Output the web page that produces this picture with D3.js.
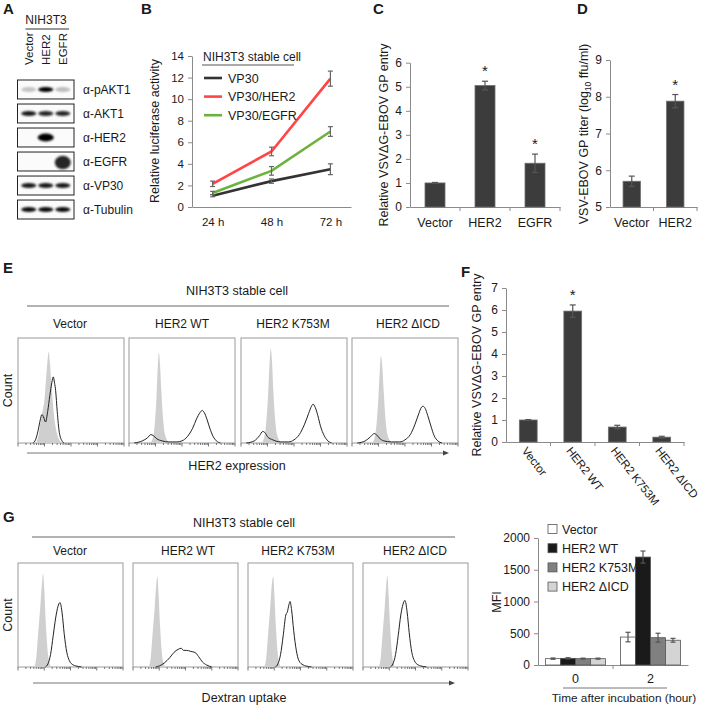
<!DOCTYPE html>
<html><head><meta charset="utf-8">
<script src="https://cdn.jsdelivr.net/npm/d3@7"></script>
<style>
html,body{margin:0;padding:0;background:#fff;}
svg{display:block;}
</style></head><body>
<svg id="fig" width="702" height="710"></svg>
<script>
// ================= DATA =================
// Panel A (western blot, relative band intensity per lane)
const blotLanes = ["Vector","HER2","EGFR"];
const blotRows = ["α-pAKT1","α-AKT1","α-HER2","α-EGFR","α-VP30","α-Tubulin"];
const blotIntensity = [
  [0.22,1.0,0.25],
  [0.9,0.85,0.85],
  [0,1.0,0],
  [0,0,0.85],
  [0.9,0.9,0.9],
  [0.95,0.95,0.95]
];
const blotSpread = [1,1,1.5,2.6,1,1];

// Panel B
const timeLabels = ["24 h","48 h","72 h"];
const lucTicks = [0,2,4,6,8,10,12,14];
const lucVP30 = [1.05,2.4,3.5];
const lucVP30Err = [0.1,0.2,0.5];
const lucHER2 = [2.15,5.15,11.9];
const lucHER2Err = [0.25,0.4,0.7];
const lucEGFR = [1.3,3.35,7.0];
const lucEGFRErr = [0.15,0.4,0.45];
const lucNames = ["VP30","VP30/HER2","VP30/EGFR"];

// Panel C
const entryCats = ["Vector","HER2","EGFR"];
const entryVals = [1.0,5.05,1.82];
const entryErr = [0.02,0.18,0.38];
const entrySig = [false,true,true];
const entryTicks = [0,1,2,3,4,5,6];

// Panel D
const titerCats = ["Vector","HER2"];
const titerVals = [5.7,7.88];
const titerErr = [0.14,0.18];
const titerSig = [false,true];
const titerTicks = [5,6,7,8,9];

// Panels E / G flow histograms: [log decade, relative count]
const flowCats = ["Vector","HER2 WT","HER2 K753M","HER2 ΔICD"];
const eIsoVector = [[0.68,0],[0.78,0.08],[0.86,0.22],[0.94,0.32],[1.0,0.42],[1.06,0.62],[1.12,0.8],[1.16,0.87],[1.2,0.78],[1.28,0.5],[1.36,0.26],[1.46,0.1],[1.56,0.03],[1.66,0]];
const eIsoWT = [[0.8,0],[0.9,0.05],[0.98,0.2],[1.04,0.45],[1.09,0.75],[1.13,0.86],[1.17,0.75],[1.22,0.5],[1.28,0.25],[1.36,0.08],[1.46,0.02],[1.56,0]];
const eIsoK753M = [[0.78,0],[0.88,0.06],[0.96,0.22],[1.02,0.45],[1.07,0.72],[1.12,0.9],[1.17,0.78],[1.22,0.5],[1.28,0.25],[1.36,0.08],[1.46,0.02],[1.56,0]];
const eIsoDICD = [[0.76,0],[0.86,0.06],[0.94,0.22],[1.0,0.45],[1.05,0.7],[1.09,0.83],[1.14,0.74],[1.2,0.48],[1.26,0.24],[1.34,0.08],[1.44,0.02],[1.54,0]];
const eHerVector = [[0.56,0],[0.66,0.03],[0.76,0.12],[0.84,0.22],[0.9,0.27],[0.96,0.25],[1.04,0.2],[1.12,0.3],[1.2,0.45],[1.28,0.58],[1.33,0.63],[1.38,0.57],[1.42,0.5],[1.48,0.3],[1.56,0.1],[1.66,0.02],[1.74,0]];
const eHerWT = [[0.2,0],[0.5,0.02],[0.7,0.05],[0.82,0.08],[0.92,0.07],[1.05,0.04],[1.25,0.02],[1.5,0.01],[1.8,0.01],[2.0,0.02],[2.2,0.06],[2.4,0.14],[2.55,0.23],[2.68,0.29],[2.76,0.31],[2.84,0.29],[2.95,0.22],[3.05,0.14],[3.18,0.06],[3.3,0.02],[3.45,0]];
const eHerK753M = [[0.2,0],[0.5,0.02],[0.7,0.07],[0.82,0.11],[0.9,0.1],[1.0,0.06],[1.2,0.03],[1.5,0.01],[1.8,0.01],[2.0,0.03],[2.2,0.08],[2.4,0.18],[2.55,0.28],[2.66,0.35],[2.72,0.37],[2.8,0.34],[2.9,0.26],[3.0,0.16],[3.14,0.07],[3.28,0.02],[3.42,0]];
const eHerDICD = [[0.2,0],[0.5,0.02],[0.7,0.06],[0.84,0.09],[0.92,0.08],[1.02,0.05],[1.2,0.02],[1.5,0.01],[1.8,0.01],[2.0,0.03],[2.2,0.08],[2.38,0.18],[2.52,0.28],[2.62,0.34],[2.68,0.35],[2.76,0.33],[2.86,0.26],[2.98,0.16],[3.1,0.07],[3.24,0.02],[3.4,0]];
const gIsoVector = [[0.62,0],[0.7,0.1],[0.76,0.3],[0.84,0.55],[0.92,0.82],[0.96,0.9],[1.0,0.75],[1.06,0.42],[1.12,0.18],[1.2,0.04],[1.26,0]];
const gIsoWT = [[0.6,0],[0.68,0.1],[0.74,0.3],[0.82,0.55],[0.89,0.8],[0.93,0.87],[0.97,0.72],[1.03,0.4],[1.09,0.16],[1.17,0.03],[1.24,0]];
const gIsoK753M = [[0.62,0],[0.7,0.1],[0.76,0.3],[0.84,0.55],[0.91,0.8],[0.96,0.87],[1.0,0.72],[1.06,0.4],[1.12,0.16],[1.2,0.03],[1.26,0]];
const gIsoDICD = [[0.6,0],[0.68,0.1],[0.74,0.3],[0.82,0.55],[0.89,0.8],[0.93,0.88],[0.97,0.72],[1.03,0.4],[1.09,0.16],[1.17,0.03],[1.24,0]];
const gDexVector = [[1.04,0],[1.14,0.03],[1.24,0.12],[1.34,0.3],[1.44,0.48],[1.52,0.58],[1.6,0.62],[1.68,0.52],[1.76,0.32],[1.86,0.14],[1.96,0.06],[2.1,0.02],[2.3,0.005],[2.42,0]];
const gDexWT = [[0.86,0],[1.0,0.01],[1.2,0.04],[1.4,0.09],[1.56,0.14],[1.72,0.17],[1.84,0.18],[1.92,0.16],[2.04,0.16],[2.2,0.15],[2.36,0.14],[2.5,0.1],[2.64,0.05],[2.8,0.02],[3.0,0]];
const gDexK753M = [[1.04,0],[1.14,0.03],[1.24,0.12],[1.34,0.3],[1.44,0.5],[1.5,0.53],[1.56,0.6],[1.6,0.63],[1.66,0.55],[1.74,0.35],[1.84,0.16],[1.94,0.06],[2.1,0.02],[2.3,0.005],[2.42,0]];
const gDexDICD = [[1.04,0],[1.14,0.03],[1.24,0.12],[1.34,0.3],[1.44,0.5],[1.52,0.6],[1.6,0.64],[1.68,0.53],[1.76,0.33],[1.86,0.14],[1.96,0.06],[2.1,0.02],[2.3,0.005],[2.42,0]];

// Panel F
const mutCats = ["Vector","HER2 WT","HER2 K753M","HER2 ΔICD"];
const mutVals = [1.0,5.95,0.68,0.22];
const mutErr = [0.02,0.28,0.08,0.04];
const mutSig = [false,true,false,false];
const mutTicks = [0,1,2,3,4,5,6,7];

// Panel G bar chart
const mfiTimes = ["0","2"];
const mfiVector = [100,440];
const mfiWT = [105,1700];
const mfiK753M = [100,430];
const mfiDICD = [100,390];
const mfiVectorErr = [10,75];
const mfiWTErr = [10,95];
const mfiK753MErr = [8,70];
const mfiDICDErr = [8,30];
const mfiTicks = [0,500,1000,1500,2000];
const mfiColors = ["#ffffff","#1a1a1a","#808080","#d4d4d4"];

// ================= DRAW =================
const FONT = "'Liberation Sans', Arial, Helvetica, sans-serif";
const svg = d3.select("#fig").attr("font-family", FONT);
svg.append("rect").attr("width",702).attr("height",710).attr("fill","#fff");
const AX = "#8a8a8a", TXT = "#1a1a1a";
const intFmt = d3.format("d");

function label(t,x,y,opt={}){
  const e = svg.append("text").attr("x",x).attr("y",y).attr("fill",TXT)
    .attr("font-size",opt.size||12).attr("text-anchor",opt.anchor||"start").text(t);
  if(opt.bold) e.attr("font-weight","bold");
  if(opt.rot!==undefined) e.attr("transform",`rotate(${opt.rot},${x},${y})`);
  return e;
}
function styleAxis(g,size){
  g.attr("font-family",FONT);
  g.selectAll("path.domain").attr("stroke",AX);
  g.selectAll(".tick line").attr("stroke",AX);
  g.selectAll(".tick text").attr("fill",TXT).attr("font-size",size||11.5);
}
function hline(x1,x2,y,c){ svg.append("line").attr("x1",x1).attr("x2",x2).attr("y1",y).attr("y2",y).attr("stroke",c||"#555").attr("stroke-width",1); }
function errBar(g,x,y1,y2,w,c){
  g.append("line").attr("x1",x).attr("x2",x).attr("y1",y1).attr("y2",y2).attr("stroke",c).attr("stroke-width",1.2);
  [y1,y2].forEach(y=>g.append("line").attr("x1",x-w/2).attr("x2",x+w/2).attr("y1",y).attr("y2",y).attr("stroke",c).attr("stroke-width",1.2));
}

// panel letters
label("A",3,14,{bold:true,size:15});
label("B",141,14,{bold:true,size:15});
label("C",373,14,{bold:true,size:15});
label("D",577,14,{bold:true,size:15});
label("E",3,273,{bold:true,size:15});
label("F",461,277,{bold:true,size:15});
label("G",3,522,{bold:true,size:15});

// ---------- Panel A ----------
const defs = svg.append("defs");
defs.append("filter").attr("id","blur").attr("x","-50%").attr("y","-100%").attr("width","200%").attr("height","300%")
  .append("feGaussianBlur").attr("stdDeviation",1.3);
const laneX = d3.scaleBand(blotLanes,[17.5,74]).paddingOuter(0.16).paddingInner(0);
const rowY = d3.scaleBand(blotRows,[80,219]).paddingInner(0.21).paddingOuter(0);
label("NIH3T3",46,24,{anchor:"middle",size:12});
hline(laneX.range()[0]+8, laneX.range()[1]-5, 29, "#333");
blotLanes.forEach(l=>{
  const cx = laneX(l)+laneX.bandwidth()/2;
  label(l,cx+4,65,{rot:-90,size:11.5});
});
blotRows.forEach((r,ri)=>{
  const g = svg.append("g");
  const y0 = rowY(r), h = rowY.bandwidth();
  g.append("rect").attr("x",laneX.range()[0]).attr("y",y0).attr("width",laneX.range()[1]-laneX.range()[0]).attr("height",h)
    .attr("fill","#fbfbfb").attr("stroke","#222").attr("stroke-width",1);
  blotLanes.forEach((l,li)=>{
    const v = blotIntensity[ri][li];
    if(v<=0) return;
    const cx = laneX(l)+laneX.bandwidth()/2;
    const sp = blotSpread[ri];
    g.append("ellipse").attr("cx",cx).attr("cy",y0+h/2 + (sp>2?1:0)).attr("rx",7.5+ (sp>1.2?0.5:0)).attr("ry",2.6*sp)
      .attr("fill","#000").attr("opacity",v).attr("filter","url(#blur)");
  });
  label(r,83,y0+h/2+4.5,{size:12});
});

// ---------- Panel B ----------
const xB = d3.scalePoint(timeLabels,[192,351]).padding(0.35);
const yB = d3.scaleLinear([0,14],[207,56]);
const gB = svg.append("g");
gB.append("g").attr("transform","translate(192,0)").call(d3.axisLeft(yB).tickValues(lucTicks).tickFormat(intFmt).tickSize(4).tickSizeOuter(0).tickPadding(4)).call(styleAxis);
gB.append("g").attr("transform","translate(0,207)").call(d3.axisBottom(xB).tickSize(0).tickSizeOuter(0).tickPadding(11)).call(styleAxis);
label("Relative luciferase activity",159,131,{anchor:"middle",rot:-90,size:12.5});
const lucColors = ["#333333","#ff4545","#6cb33e"];
const lucData = [[lucVP30,lucVP30Err],[lucHER2,lucHER2Err],[lucEGFR,lucEGFRErr]];
const lineB = d3.line().x((d,i)=>xB(timeLabels[i])).y(d=>yB(d));
lucData.forEach(([vals,errs],k)=>{
  gB.append("path").datum(vals).attr("d",lineB).attr("fill","none").attr("stroke",lucColors[k]).attr("stroke-width",2.6);
});
lucData.forEach(([vals,errs])=>{
  vals.forEach((v,i)=>errBar(gB,xB(timeLabels[i]),yB(v+errs[i]),yB(v-errs[i]),5,"#666"));
});
label("NIH3T3 stable cell",203,61,{size:12});
hline(202,294,65,"#555");
lucNames.forEach((n,k)=>{
  const y = 78 + k*18.6;
  gB.append("line").attr("x1",204).attr("x2",222).attr("y1",y).attr("y2",y).attr("stroke",lucColors[k]).attr("stroke-width",2.6);
  label(n,228,y+4.5,{size:12.5});
});

// bar chart helper
function barChart(opt){
  const x = d3.scaleBand(opt.cats,opt.xr).paddingInner(opt.pad).paddingOuter(opt.pad/2);
  const y = d3.scaleLinear(opt.dom,opt.yr);
  const g = svg.append("g");
  g.append("g").attr("transform",`translate(${opt.xr[0]},0)`).call(d3.axisLeft(y).tickValues(opt.ticks).tickFormat(intFmt).tickSize(4).tickSizeOuter(0).tickPadding(4)).call(a=>styleAxis(a,12));
  const xa = g.append("g").attr("transform",`translate(0,${opt.yr[0]})`).call(d3.axisBottom(x).tickSize(0).tickSizeOuter(0).tickPadding(opt.rotLabels?0:11)).call(a=>styleAxis(a,opt.rotLabels?11.5:12.5));
  const bounds = opt.cats.map(c=>x(c)-x.step()*x.paddingInner()/2).slice(1).concat([opt.xr[1]]);
  bounds.forEach(b=>g.append("line").attr("x1",b).attr("x2",b).attr("y1",opt.yr[0]).attr("y2",opt.yr[0]+4).attr("stroke",AX));
  if(opt.rotLabels){
    xa.selectAll(".tick text").attr("text-anchor","start").attr("dy",0)
      .attr("transform","translate(-7,9) rotate(52)");
  }
  opt.vals.forEach((v,i)=>{
    const c = opt.cats[i];
    g.append("rect").attr("x",x(c)).attr("width",x.bandwidth()).attr("y",y(v)).attr("height",y(opt.dom[0])-y(v))
      .attr("fill","#3c3c3c").attr("stroke","#6e6e6e").attr("stroke-width",0.8);
  });
  opt.vals.forEach((v,i)=>{
    const cx = x(opt.cats[i])+x.bandwidth()/2;
    errBar(g,cx,y(v+opt.err[i]),y(v-opt.err[i]),6,"#555");
    if(opt.sig[i]) g.append("text").attr("x",cx).attr("y",y(v+opt.err[i])-5).attr("text-anchor","middle").attr("font-size",15).attr("fill",TXT).text("*");
  });
  return {x,y,g};
}
// ---------- Panel C ----------
barChart({cats:entryCats,vals:entryVals,err:entryErr,sig:entrySig,ticks:entryTicks,dom:[0,6],xr:[410,560],yr:[207,62.7],pad:0.6});
label("Relative VSVΔG-EBOV GP entry",388,135,{anchor:"middle",rot:-90,size:12.5});
// ---------- Panel D ----------
barChart({cats:titerCats,vals:titerVals,err:titerErr,sig:titerSig,ticks:titerTicks,dom:[5,9],xr:[610,697],yr:[207,60],pad:0.6});
{
  const t = svg.append("text").attr("transform","translate(588,134) rotate(-90)").attr("text-anchor","middle").attr("font-size",12.5).attr("fill",TXT);
  t.append("tspan").text("VSV-EBOV GP titer (log");
  t.append("tspan").attr("font-size",8.5).attr("dy",3).text("10");
  t.append("tspan").attr("dy",-3).text(" ffu/ml)");
}

// ---------- Flow histograms (E, G) ----------
function flowRow(o){
  label("NIH3T3 stable cell",o.titleX,o.titleY,{anchor:"middle",size:12.5});
  hline(o.lineX[0],o.lineX[1],o.lineY,"#666");
  label("Count",o.countX,o.boxY+o.boxH/2,{anchor:"middle",rot:-90,size:12.5});
  o.boxX.forEach((bx,i)=>{
    label(flowCats[i],o.subX[i],o.subY,{anchor:"middle",size:12});
    const x = d3.scaleLinear([0,4],[bx,bx+o.boxW]);
    const xl = d3.scaleLog([1,1e4],[bx,bx+o.boxW]);
    const y = d3.scaleLinear([0,1],[o.boxY+o.boxH,o.boxY]);
    const g = svg.append("g");
    g.append("rect").attr("x",bx).attr("y",o.boxY).attr("width",o.boxW).attr("height",o.boxH).attr("fill","#fff").attr("stroke","#9a9a9a").attr("stroke-width",1);
    const area = d3.area().x(d=>x(d[0])).y0(y(0)).y1(d=>y(d[1])).curve(d3.curveMonotoneX);
    const line = d3.line().x(d=>x(d[0])).y(d=>y(d[1])).curve(d3.curveMonotoneX);
    g.append("path").datum(o.iso[i]).attr("d",area).attr("fill","#cfcfcf");
    g.append("path").datum(o.sig[i]).attr("d",line).attr("fill","none").attr("stroke","#222").attr("stroke-width",1);
    xl.ticks().forEach(t=>{
      const major = Math.abs(Math.log10(t)-Math.round(Math.log10(t)))<1e-9;
      g.append("line").attr("x1",xl(t)).attr("x2",xl(t)).attr("y1",o.boxY+o.boxH).attr("y2",o.boxY+o.boxH+(major?3.5:2)).attr("stroke","#777");
    });
  });
  svg.append("line").attr("x1",o.arrX[0]).attr("x2",o.arrX[1]-5).attr("y1",o.arrY).attr("y2",o.arrY).attr("stroke","#777").attr("stroke-width",1);
  svg.append("path").attr("d",`M${o.arrX[1]},${o.arrY} l-6,-2.5 l0,5 z`).attr("fill","#444");
  label(o.xlab,o.titleX,o.xlabY,{anchor:"middle",size:12.5});
}
flowRow({titleX:237,titleY:295,lineX:[27,449],lineY:306,subX:[70,182,293,408],subY:328,
  boxX:[18,129,241,352],boxW:106,boxY:338,boxH:105,countX:12,arrX:[27,449],arrY:453,xlabY:470,xlab:"HER2 expression",
  iso:[eIsoVector,eIsoWT,eIsoK753M,eIsoDICD],sig:[eHerVector,eHerWT,eHerK753M,eHerDICD]});
flowRow({titleX:244,titleY:527,lineX:[32,455],lineY:537,subX:[70,188,298,415],subY:555,
  boxX:[18,133,248,363],boxW:105,boxY:563,boxH:104,countX:12,arrX:[33,455],arrY:683,xlabY:702,xlab:"Dextran uptake",
  iso:[gIsoVector,gIsoWT,gIsoK753M,gIsoDICD],sig:[gDexVector,gDexWT,gDexK753M,gDexDICD]});

// ---------- Panel F ----------
barChart({cats:mutCats,vals:mutVals,err:mutErr,sig:mutSig,ticks:mutTicks,dom:[0,7],xr:[506,684],yr:[442,288],pad:0.6,rotLabels:true});
label("Relative VSVΔG-EBOV GP entry",481,365,{anchor:"middle",rot:-90,size:12.5});

// ---------- Panel G bar chart ----------
{
  const x0 = d3.scaleBand(mfiTimes,[538,688]).paddingInner(0.2).paddingOuter(0.1);
  const names = ["Vector","HER2 WT","HER2 K753M","HER2 ΔICD"];
  const x1 = d3.scaleBand(names,[0,x0.bandwidth()]);
  const y = d3.scaleLinear([0,2000],[665,538]);
  const g = svg.append("g");
  g.append("g").attr("transform","translate(538,0)").call(d3.axisLeft(y).tickValues(mfiTicks).tickFormat(intFmt).tickSize(4).tickSizeOuter(0).tickPadding(4)).call(a=>styleAxis(a,12));
  g.append("g").attr("transform","translate(0,665)").call(d3.axisBottom(x0).tickSize(0).tickSizeOuter(0).tickPadding(9)).call(a=>styleAxis(a,12.5));
  const vals = [mfiVector,mfiWT,mfiK753M,mfiDICD];
  const errs = [mfiVectorErr,mfiWTErr,mfiK753MErr,mfiDICDErr];
  mfiTimes.forEach((t,ti)=>{
    names.forEach((n,k)=>{
      const v = vals[k][ti];
      g.append("rect").attr("x",x0(t)+x1(n)).attr("width",x1.bandwidth()).attr("y",y(v)).attr("height",y(0)-y(v))
        .attr("fill",mfiColors[k]).attr("stroke","#555").attr("stroke-width",0.8);
    });
    names.forEach((n,k)=>{
      const v = vals[k][ti], e = errs[k][ti];
      errBar(g,x0(t)+x1(n)+x1.bandwidth()/2,y(v+e),y(v-e),5,"#555");
    });
  });
  g.append("line").attr("x1",x0.range()[0]+x0.step()*1.0).attr("x2",x0.range()[0]+x0.step()*1.0).attr("y1",665).attr("y2",669).attr("stroke",AX);
  hline(563,667,688,"#777");
  label("Time after incubation (hour)",624,702,{anchor:"middle",size:11.8});
  label("MFI",501,602,{anchor:"middle",rot:-90,size:12.5});
  names.forEach((n,k)=>{
    const yy = 529 + k*19.2;
    g.append("rect").attr("x",548).attr("y",yy-4.5).attr("width",9).attr("height",9).attr("fill",mfiColors[k]).attr("stroke","#555").attr("stroke-width",0.8);
    label(n,562,yy+4.5,{size:12.5});
  });
}
</script>
</body></html>
